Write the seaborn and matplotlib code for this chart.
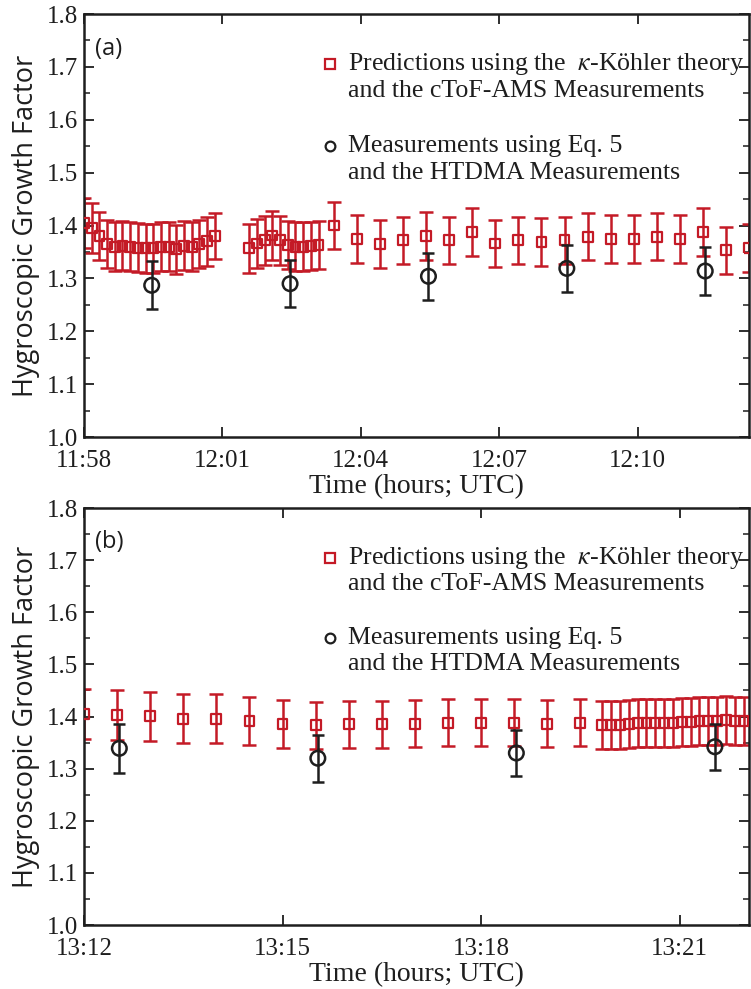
import numpy as np
import pandas as pd
import matplotlib
matplotlib.use("Agg")
import matplotlib.pyplot as plt
from matplotlib.ticker import MultipleLocator, FixedLocator
import seaborn as sns

# ---------------- data ----------------
# panel (a)
a_pred_time = [
    "11:58:00", "11:58:10", "11:58:20", "11:58:30", "11:58:40", "11:58:50",
    "11:59:00", "11:59:10", "11:59:20", "11:59:30", "11:59:40", "11:59:50",
    "12:00:00", "12:00:10", "12:00:20", "12:00:30", "12:00:40", "12:00:50",
    "12:01:35", "12:01:45", "12:01:55", "12:02:05", "12:02:15", "12:02:25",
    "12:02:35", "12:02:45", "12:02:55", "12:03:05",
    "12:03:25", "12:03:55", "12:04:25", "12:04:55", "12:05:25", "12:05:55",
    "12:06:25", "12:06:55", "12:07:25", "12:07:55", "12:08:25", "12:08:55",
    "12:09:25", "12:09:55", "12:10:25", "12:10:55", "12:11:25", "12:11:55",
    "12:12:25",
]
a_pred_val = [
    1.405, 1.395, 1.380, 1.365, 1.360, 1.362, 1.360, 1.358, 1.357, 1.357,
    1.360, 1.360, 1.355, 1.362, 1.360, 1.365, 1.370, 1.380,
    1.357, 1.366, 1.372, 1.381, 1.372, 1.363, 1.360, 1.360, 1.361, 1.363,
    1.400, 1.375, 1.365, 1.372, 1.380, 1.372, 1.388, 1.366, 1.372, 1.369,
    1.372, 1.379, 1.375, 1.375, 1.379, 1.375, 1.388, 1.353, 1.357,
]
a_pred_err = [
    0.047, 0.047, 0.046, 0.046, 0.046, 0.046, 0.046, 0.046, 0.046, 0.046,
    0.046, 0.046, 0.046, 0.046, 0.046, 0.046, 0.046, 0.044,
    0.046, 0.046, 0.046, 0.046, 0.046, 0.046, 0.046, 0.046, 0.046, 0.046,
    0.045, 0.045, 0.045, 0.045, 0.045, 0.045, 0.045, 0.045, 0.045, 0.045,
    0.045, 0.045, 0.045, 0.045, 0.045, 0.045, 0.045, 0.045, 0.045,
]
a_meas_time = ["11:59:28", "12:02:28", "12:05:28", "12:08:28", "12:11:28"]
a_meas_val = [1.287, 1.290, 1.304, 1.319, 1.314]
a_meas_err = [0.045, 0.044, 0.044, 0.045, 0.046]
a_ticks = ["11:58", "12:01", "12:04", "12:07", "12:10"]
a_xlim = ["11:58:00", "12:12:25"]

# panel (b)
b_pred_time = [
    "13:12:00", "13:12:30", "13:13:00", "13:13:30", "13:14:00", "13:14:30",
    "13:15:00", "13:15:30", "13:16:00", "13:16:30", "13:17:00", "13:17:30",
    "13:18:00", "13:18:30", "13:19:00", "13:19:30",
    "13:19:50", "13:19:58", "13:20:06", "13:20:14", "13:20:22", "13:20:30",
    "13:20:38", "13:20:46", "13:20:54", "13:21:02", "13:21:10", "13:21:18",
    "13:21:26", "13:21:34", "13:21:42", "13:21:50", "13:21:58",
]
b_pred_val = [
    1.405, 1.403, 1.401, 1.396, 1.396, 1.391, 1.385, 1.383, 1.385, 1.385,
    1.386, 1.388, 1.388, 1.388, 1.386, 1.388,
    1.384, 1.383, 1.384, 1.386, 1.387, 1.388, 1.387, 1.388, 1.388, 1.389,
    1.390, 1.391, 1.391, 1.392, 1.393, 1.392, 1.391,
]
b_pred_err = [
    0.048, 0.048, 0.047, 0.047, 0.047, 0.046, 0.046, 0.045, 0.045, 0.045,
    0.045, 0.045, 0.045, 0.045, 0.045, 0.045,
    0.046, 0.046, 0.046, 0.046, 0.046, 0.046, 0.046, 0.046, 0.046, 0.046,
    0.046, 0.046, 0.046, 0.046, 0.046, 0.046, 0.046,
]
b_meas_time = ["13:12:32", "13:15:32", "13:18:32", "13:21:32"]
b_meas_val = [1.339, 1.320, 1.330, 1.342]
b_meas_err = [0.047, 0.045, 0.045, 0.044]
b_ticks = ["13:12", "13:15", "13:18", "13:21"]
b_xlim = ["13:12:00", "13:22:03"]

y_ticks = [1.0, 1.1, 1.2, 1.3, 1.4, 1.5, 1.6, 1.7, 1.8]
label_pred = ["Predictions using the  $\\kappa$-Köhler theory",
              "and the cToF-AMS Measurements"]
label_meas = ["Measurements using Eq. 5", "and the HTDMA Measurements"]
panel_tags = ["(a)", "(b)"]

# ---------------- style ----------------
sns.set_theme(style="ticks")
plt.rcParams["font.family"] = ["Liberation Serif", "DejaVu Serif"]
plt.rcParams["mathtext.fontset"] = "stix"

RED = "#C41A26"
BLK = "#1E1E1E"


def to_min(ts):
    out = []
    for t in ts:
        parts = [int(p) for p in t.split(":")]
        if len(parts) == 2:
            parts.append(0)
        out.append(parts[0] * 60 + parts[1] + parts[2] / 60.0)
    return np.array(out)


fig = plt.figure(figsize=(7.51, 9.89), dpi=100)
ax_a = fig.add_axes([0.1119, 0.5581, 0.8855, 0.4277])
ax_b = fig.add_axes([0.1119, 0.0647, 0.8855, 0.4216])

panels = [
    (ax_a, a_pred_time, a_pred_val, a_pred_err, a_meas_time, a_meas_val,
     a_meas_err, a_ticks, a_xlim, panel_tags[0]),
    (ax_b, b_pred_time, b_pred_val, b_pred_err, b_meas_time, b_meas_val,
     b_meas_err, b_ticks, b_xlim, panel_tags[1]),
]

for (ax, pt, pv, pe, mt, mv, me, ticks, xlim, tag) in panels:
    xp = to_min(pt)
    xm = to_min(mt)
    df_p = pd.DataFrame({"t": xp, "v": pv, "e": pe})
    df_m = pd.DataFrame({"t": xm, "v": mv, "e": me})

    ax.errorbar(df_p["t"], df_p["v"], yerr=df_p["e"], fmt="none",
                ecolor=RED, elinewidth=1.8, capsize=5.0, capthick=1.8,
                zorder=2)
    sns.scatterplot(data=df_p, x="t", y="v", marker="s", s=50,
                    facecolor="none", edgecolor=RED, linewidth=1.6,
                    ax=ax, zorder=3, legend=False)
    ax.errorbar(df_m["t"], df_m["v"], yerr=df_m["e"], fmt="none",
                ecolor=BLK, elinewidth=1.8, capsize=4.6, capthick=1.8,
                zorder=4)
    sns.scatterplot(data=df_m, x="t", y="v", marker="o", s=110,
                    facecolor="none", edgecolor=BLK, linewidth=1.8,
                    ax=ax, zorder=5, legend=False)

    lim = to_min(xlim)
    ax.set_xlim(lim[0], lim[1])
    ax.set_ylim(1.0, 1.8)
    ax.xaxis.set_major_locator(FixedLocator(to_min(ticks)))
    ax.set_xticklabels(ticks)
    ax.yaxis.set_major_locator(FixedLocator(y_ticks))
    ax.set_yticklabels([f"{v:.1f}" for v in y_ticks])
    ax.yaxis.set_minor_locator(MultipleLocator(0.05))

    ax.tick_params(axis="both", which="major", direction="in", length=7,
                   width=1.3, colors=BLK, labelsize=18, top=True, right=True,
                   pad=4)
    ax.tick_params(axis="y", which="minor", direction="in", length=4,
                   width=1.1, colors=BLK, left=True, right=True)
    ax.tick_params(axis="x", which="major", pad=9)
    for s in ax.spines.values():
        s.set_linewidth(1.8)
        s.set_color(BLK)
        s.set_visible(True)

    ax.set_xlabel("Time (hours; UTC)", fontsize=20, labelpad=2, color=BLK)
    ax.set_ylabel("Hygroscopic Growth Factor", fontsize=19.5,
                  family=["Open Sans", "DejaVu Sans"], color=BLK,
                  labelpad=5)

    ax.text(0.017, 0.918, tag, transform=ax.transAxes, fontsize=17,
            family=["Open Sans", "DejaVu Sans"], ha="left", va="center",
            color=BLK)

    # legend (manually placed entries)
    ax.plot([0.370], [0.881], transform=ax.transAxes, marker="s",
            markersize=6.5, mfc="none", mec=RED, mew=1.6, ls="none",
            clip_on=False)
    ax.plot([0.370], [0.6875], transform=ax.transAxes, marker="o",
            markersize=7, mfc="none", mec=BLK, mew=1.6, ls="none",
            clip_on=False)
    for yy, txt in zip([0.881, 0.819], label_pred):
        ax.text(0.397, yy, txt, transform=ax.transAxes, fontsize=18.6,
                ha="left", va="center", color=BLK)
    for yy, txt in zip([0.6875, 0.625], label_meas):
        ax.text(0.397, yy, txt, transform=ax.transAxes, fontsize=18.6,
                ha="left", va="center", color=BLK)

fig.savefig("out.png", dpi=100)
